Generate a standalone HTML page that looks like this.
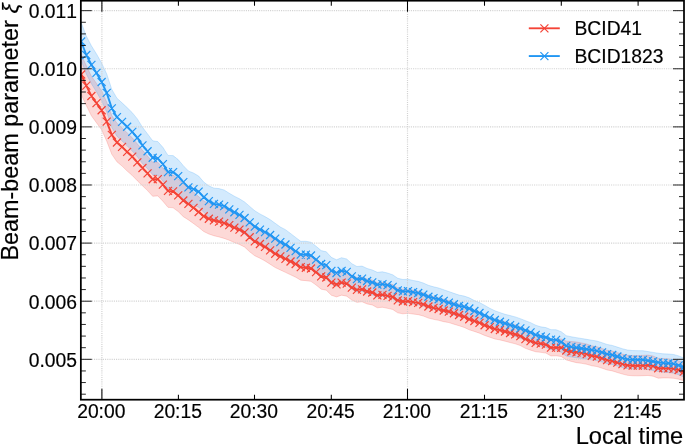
<!DOCTYPE html><html><head><meta charset="utf-8"><style>html,body{margin:0;padding:0;background:#fff;width:685px;height:445px;overflow:hidden}svg{display:block;will-change:transform}text{font-family:"Liberation Sans",sans-serif;fill:#000;font-kerning:none;font-feature-settings:"kern" 0;stroke:#000;stroke-width:0.18px}</style></head><body><svg width="685" height="445" viewBox="0 0 685 445"><rect width="685" height="445" fill="#fff"/><defs><clipPath id="ax"><rect x="80.85" y="0.7" width="603.15" height="399.0"/></clipPath></defs><g clip-path="url(#ax)"><polygon points="81.18,54.50 86.29,65.70 91.40,76.17 96.50,83.43 101.61,90.67 106.72,102.18 111.82,115.56 116.93,123.27 122.04,127.67 127.14,132.88 132.25,137.65 137.35,143.88 142.46,150.29 147.57,156.12 152.67,162.24 157.78,162.27 162.89,168.03 167.99,174.44 173.10,175.06 178.20,179.04 183.31,184.29 188.42,187.98 193.52,192.19 198.63,196.61 203.74,200.92 208.84,203.47 213.95,205.18 219.05,206.41 224.16,207.87 229.27,210.05 234.37,212.62 239.48,214.77 244.59,217.73 249.69,222.78 254.80,227.09 259.91,229.80 265.01,232.86 270.12,236.43 275.22,240.04 280.33,242.78 285.44,245.48 290.54,248.19 295.65,250.89 300.76,254.21 305.86,254.79 310.97,255.60 316.07,259.35 321.18,263.63 326.29,264.79 331.39,269.95 336.50,271.70 341.61,270.06 346.71,271.21 351.82,275.15 356.93,277.45 362.03,276.85 367.14,279.05 372.24,280.05 377.35,282.85 382.46,282.35 387.56,283.45 392.67,284.55 397.78,287.95 402.88,289.18 407.99,289.11 413.09,290.18 418.20,291.08 423.31,292.69 428.41,295.00 433.52,296.51 438.63,297.76 443.73,299.37 448.84,300.52 453.94,302.38 459.05,304.20 464.16,306.07 469.26,308.74 474.37,310.57 479.48,312.58 484.58,315.08 489.69,317.05 494.80,319.10 499.90,320.31 505.01,321.78 510.11,323.41 515.22,324.89 520.33,326.84 525.43,330.02 530.54,332.16 535.65,334.11 540.75,335.05 545.86,336.15 550.96,339.40 556.07,339.30 561.18,338.90 566.28,341.14 571.39,341.52 576.50,342.00 581.60,342.96 586.71,344.04 591.81,345.80 596.92,346.80 602.03,348.55 607.13,350.21 612.24,351.08 617.35,352.63 622.45,354.06 627.56,355.28 632.67,355.62 637.77,355.58 642.88,355.40 647.98,355.12 653.09,356.04 658.20,358.33 663.30,358.46 668.41,358.85 673.52,359.53 678.62,360.82 683.73,362.65 683.73,380.67 678.62,379.20 673.52,378.26 668.41,377.94 663.30,377.90 658.20,378.13 653.09,376.19 647.98,375.48 642.88,375.71 637.77,375.82 632.67,375.78 627.56,375.35 622.45,374.05 617.35,372.53 612.24,370.90 607.13,369.94 602.03,368.20 596.92,366.55 591.81,365.77 586.71,364.24 581.60,363.37 576.50,362.63 571.39,361.41 566.28,359.90 561.18,356.53 556.07,355.79 550.96,355.96 545.86,353.06 540.75,352.33 535.65,351.74 530.54,350.14 525.43,348.36 520.33,345.54 515.22,343.82 510.11,342.57 505.01,341.16 499.90,339.92 494.80,338.95 489.69,337.15 484.58,335.42 479.48,333.16 474.37,331.41 469.26,329.82 464.16,327.39 459.05,325.77 453.94,324.19 448.84,322.58 443.73,321.68 438.63,320.33 433.52,319.33 428.41,318.08 423.31,316.02 418.20,314.67 413.09,314.02 407.99,313.29 402.88,313.82 397.78,312.85 392.67,309.45 387.56,308.35 382.46,307.25 377.35,307.75 372.24,304.95 367.14,303.95 362.03,301.75 356.93,302.35 351.82,300.05 346.71,296.19 341.61,295.14 336.50,296.90 331.39,295.25 326.29,290.21 321.18,289.17 316.07,285.00 310.97,281.36 305.86,280.66 300.76,280.20 295.65,277.16 290.54,274.76 285.44,272.36 280.33,269.96 275.22,267.52 270.12,264.23 265.01,260.96 259.91,258.21 254.80,255.81 249.69,251.80 244.59,247.05 239.48,244.40 234.37,242.56 229.27,240.29 224.16,238.38 219.05,236.94 213.95,235.72 208.84,234.03 203.74,231.51 198.63,227.37 193.52,223.52 188.42,219.88 183.31,216.64 178.20,211.57 173.10,207.77 167.99,207.34 162.89,201.21 157.78,195.89 152.67,196.29 147.57,190.61 142.46,185.73 137.35,180.78 132.25,175.46 127.14,171.00 122.04,166.00 116.93,161.80 111.82,154.30 106.72,141.13 101.61,129.83 96.50,122.80 91.40,115.75 86.29,105.48 81.18,94.50" fill="#F44336" fill-opacity="0.2" stroke="#F44336" stroke-opacity="0.2" stroke-width="1"/><polygon points="81.18,22.50 86.29,35.98 91.40,45.81 96.50,53.91 101.61,62.99 106.72,73.92 111.82,89.39 116.93,98.16 122.04,102.83 127.14,107.62 132.25,112.64 137.35,118.88 142.46,127.24 147.57,133.93 152.67,140.75 157.78,141.57 162.89,147.33 167.99,155.38 173.10,155.60 178.20,159.60 183.31,165.64 188.42,170.99 193.52,173.07 198.63,176.00 203.74,182.09 208.84,185.87 213.95,188.13 219.05,188.60 224.16,190.00 229.27,193.26 234.37,196.21 239.48,198.82 244.59,201.96 249.69,206.39 254.80,210.74 259.91,213.90 265.01,216.61 270.12,219.62 275.22,223.31 280.33,227.00 285.44,229.63 290.54,233.46 295.65,237.42 300.76,241.30 305.86,241.25 310.97,242.22 316.07,246.24 321.18,250.61 326.29,251.76 331.39,257.37 336.50,259.74 341.61,257.71 346.71,258.99 351.82,263.63 356.93,266.51 362.03,266.09 367.14,268.47 372.24,269.96 377.35,272.34 382.46,271.82 387.56,273.00 392.67,274.78 397.78,278.26 402.88,279.46 407.99,279.26 413.09,280.46 418.20,281.37 423.31,283.02 428.41,285.31 433.52,286.79 438.63,287.98 443.73,289.72 448.84,291.53 453.94,293.36 459.05,295.07 464.16,296.07 469.26,297.87 474.37,300.52 479.48,302.56 484.58,305.29 489.69,308.22 494.80,310.71 499.90,312.53 505.01,314.29 510.11,315.55 515.22,316.88 520.33,318.63 525.43,320.70 530.54,322.63 535.65,325.17 540.75,326.84 545.86,327.57 550.96,329.64 556.07,329.72 561.18,331.69 566.28,335.64 571.39,336.78 576.50,337.63 581.60,338.48 586.71,339.33 591.81,340.19 596.92,341.07 602.03,342.70 607.13,344.46 612.24,345.43 617.35,347.08 622.45,348.69 627.56,350.03 632.67,350.55 637.77,350.63 642.88,350.70 647.98,351.57 653.09,352.40 658.20,353.20 663.30,353.80 668.41,353.99 673.52,354.45 678.62,355.88 683.73,357.95 683.73,376.94 678.62,374.72 673.52,373.15 668.41,372.53 663.30,372.20 658.20,371.44 653.09,370.49 647.98,369.63 642.88,368.90 637.77,368.98 632.67,369.03 627.56,368.66 622.45,367.46 617.35,366.00 612.24,364.49 607.13,363.66 602.03,362.04 596.92,360.57 591.81,359.85 586.71,359.15 581.60,358.47 576.50,357.78 571.39,357.10 566.28,356.12 561.18,352.34 556.07,350.13 550.96,349.71 545.86,347.24 540.75,346.10 535.65,344.45 530.54,342.02 525.43,340.19 520.33,338.22 515.22,336.57 510.11,334.57 505.01,332.59 499.90,330.94 494.80,329.34 489.69,327.60 484.58,325.42 479.48,323.38 474.37,321.55 469.26,319.10 464.16,317.50 459.05,316.71 453.94,315.20 448.84,313.58 443.73,311.97 438.63,310.44 433.52,309.45 428.41,308.17 423.31,306.09 418.20,304.64 413.09,303.94 407.99,302.94 402.88,303.34 397.78,302.34 392.67,299.02 387.56,297.40 382.46,296.38 377.35,297.06 372.24,294.84 367.14,293.53 362.03,291.31 356.93,291.89 351.82,289.17 346.71,284.81 341.61,283.89 336.50,286.26 331.39,284.23 326.29,278.64 321.18,277.39 316.07,272.91 310.97,268.81 305.86,267.84 300.76,267.90 295.65,264.98 290.54,262.14 285.44,259.44 280.33,257.18 275.22,253.80 270.12,250.41 265.01,247.71 259.91,245.31 254.80,242.46 249.69,238.39 244.59,234.02 239.48,230.93 234.37,228.37 229.27,225.47 224.16,222.25 219.05,220.75 213.95,219.52 208.84,216.50 203.74,212.36 198.63,207.13 193.52,205.07 188.42,203.64 183.31,198.47 178.20,192.61 173.10,188.80 167.99,188.75 162.89,180.88 157.78,175.30 152.67,174.66 147.57,168.66 142.46,163.50 137.35,156.68 132.25,151.05 127.14,145.86 122.04,140.90 116.93,136.16 111.82,127.39 106.72,111.92 101.61,100.99 96.50,91.91 91.40,83.81 86.29,73.98 81.18,60.50" fill="#2196F3" fill-opacity="0.2" stroke="#2196F3" stroke-opacity="0.2" stroke-width="1"/><path d="M80.85 10.66H684.0M80.85 68.77H684.0M80.85 126.88H684.0M80.85 184.99H684.0M80.85 243.10H684.0M80.85 301.21H684.0M80.85 359.32H684.0M101.90 0.7V399.7M407.50 0.7V399.7" stroke="#d2d2d2" stroke-width="1.2" stroke-dasharray="1.1 1.1" fill="none"/><polyline points="81.18,74.50 86.29,85.59 91.40,95.96 96.50,103.12 101.61,110.25 106.72,121.66 111.82,134.93 116.93,142.53 122.04,146.84 127.14,151.94 132.25,156.56 137.35,162.33 142.46,168.01 147.57,173.37 152.67,179.26 157.78,179.08 162.89,184.62 167.99,190.89 173.10,191.42 178.20,195.30 183.31,200.46 188.42,203.93 193.52,207.85 198.63,211.99 203.74,216.21 208.84,218.75 213.95,220.45 219.05,221.68 224.16,223.12 229.27,225.17 234.37,227.59 239.48,229.58 244.59,232.39 249.69,237.29 254.80,241.45 259.91,244.00 265.01,246.91 270.12,250.33 275.22,253.78 280.33,256.37 285.44,258.92 290.54,261.47 295.65,264.02 300.76,267.20 305.86,267.72 310.97,268.48 316.07,272.17 321.18,276.40 326.29,277.50 331.39,282.60 336.50,284.30 341.61,282.60 346.71,283.70 351.82,287.60 356.93,289.90 362.03,289.30 367.14,291.50 372.24,292.50 377.35,295.30 382.46,294.80 387.56,295.90 392.67,297.00 397.78,300.40 402.88,301.50 407.99,301.20 413.09,302.10 418.20,302.88 423.31,304.35 428.41,306.54 433.52,307.92 438.63,309.04 443.73,310.52 448.84,311.55 453.94,313.28 459.05,314.98 464.16,316.73 469.26,319.28 474.37,320.99 479.48,322.87 484.58,325.25 489.69,327.10 494.80,329.02 499.90,330.12 505.01,331.47 510.11,332.99 515.22,334.35 520.33,336.19 525.43,339.19 530.54,341.15 535.65,342.92 540.75,343.69 545.86,344.60 550.96,347.68 556.07,347.55 561.18,347.72 566.28,350.52 571.39,351.46 576.50,352.32 581.60,353.17 586.71,354.14 591.81,355.79 596.92,356.67 602.03,358.38 607.13,360.08 612.24,360.99 617.35,362.58 622.45,364.05 627.56,365.31 632.67,365.70 637.77,365.70 642.88,365.56 647.98,365.30 653.09,366.11 658.20,368.23 663.30,368.18 668.41,368.39 673.52,368.89 678.62,370.01 683.73,371.66" fill="none" stroke="#F44336" stroke-width="1.9" stroke-linejoin="round"/><path d="M77.18 70.50L85.18 78.50M77.18 78.50L85.18 70.50M82.29 81.59L90.29 89.59M82.29 89.59L90.29 81.59M87.40 91.96L95.40 99.96M87.40 99.96L95.40 91.96M92.50 99.12L100.50 107.12M92.50 107.12L100.50 99.12M97.61 106.25L105.61 114.25M97.61 114.25L105.61 106.25M102.72 117.66L110.72 125.66M102.72 125.66L110.72 117.66M107.82 130.93L115.82 138.93M107.82 138.93L115.82 130.93M112.93 138.53L120.93 146.53M112.93 146.53L120.93 138.53M118.04 142.84L126.04 150.84M118.04 150.84L126.04 142.84M123.14 147.94L131.14 155.94M123.14 155.94L131.14 147.94M128.25 152.56L136.25 160.56M128.25 160.56L136.25 152.56M133.35 158.33L141.35 166.33M133.35 166.33L141.35 158.33M138.46 164.01L146.46 172.01M138.46 172.01L146.46 164.01M143.57 169.37L151.57 177.37M143.57 177.37L151.57 169.37M148.67 175.26L156.67 183.26M148.67 183.26L156.67 175.26M153.78 175.08L161.78 183.08M153.78 183.08L161.78 175.08M158.89 180.62L166.89 188.62M158.89 188.62L166.89 180.62M163.99 186.89L171.99 194.89M163.99 194.89L171.99 186.89M169.10 187.42L177.10 195.42M169.10 195.42L177.10 187.42M174.20 191.30L182.20 199.30M174.20 199.30L182.20 191.30M179.31 196.46L187.31 204.46M179.31 204.46L187.31 196.46M184.42 199.93L192.42 207.93M184.42 207.93L192.42 199.93M189.52 203.85L197.52 211.85M189.52 211.85L197.52 203.85M194.63 207.99L202.63 215.99M194.63 215.99L202.63 207.99M199.74 212.21L207.74 220.21M199.74 220.21L207.74 212.21M204.84 214.75L212.84 222.75M204.84 222.75L212.84 214.75M209.95 216.45L217.95 224.45M209.95 224.45L217.95 216.45M215.05 217.68L223.05 225.68M215.05 225.68L223.05 217.68M220.16 219.12L228.16 227.12M220.16 227.12L228.16 219.12M225.27 221.17L233.27 229.17M225.27 229.17L233.27 221.17M230.37 223.59L238.37 231.59M230.37 231.59L238.37 223.59M235.48 225.58L243.48 233.58M235.48 233.58L243.48 225.58M240.59 228.39L248.59 236.39M240.59 236.39L248.59 228.39M245.69 233.29L253.69 241.29M245.69 241.29L253.69 233.29M250.80 237.45L258.80 245.45M250.80 245.45L258.80 237.45M255.91 240.00L263.91 248.00M255.91 248.00L263.91 240.00M261.01 242.91L269.01 250.91M261.01 250.91L269.01 242.91M266.12 246.33L274.12 254.33M266.12 254.33L274.12 246.33M271.22 249.78L279.22 257.78M271.22 257.78L279.22 249.78M276.33 252.37L284.33 260.37M276.33 260.37L284.33 252.37M281.44 254.92L289.44 262.92M281.44 262.92L289.44 254.92M286.54 257.47L294.54 265.47M286.54 265.47L294.54 257.47M291.65 260.02L299.65 268.02M291.65 268.02L299.65 260.02M296.76 263.20L304.76 271.20M296.76 271.20L304.76 263.20M301.86 263.72L309.86 271.72M301.86 271.72L309.86 263.72M306.97 264.48L314.97 272.48M306.97 272.48L314.97 264.48M312.07 268.17L320.07 276.17M312.07 276.17L320.07 268.17M317.18 272.40L325.18 280.40M317.18 280.40L325.18 272.40M322.29 273.50L330.29 281.50M322.29 281.50L330.29 273.50M327.39 278.60L335.39 286.60M327.39 286.60L335.39 278.60M332.50 280.30L340.50 288.30M332.50 288.30L340.50 280.30M337.61 278.60L345.61 286.60M337.61 286.60L345.61 278.60M342.71 279.70L350.71 287.70M342.71 287.70L350.71 279.70M347.82 283.60L355.82 291.60M347.82 291.60L355.82 283.60M352.93 285.90L360.93 293.90M352.93 293.90L360.93 285.90M358.03 285.30L366.03 293.30M358.03 293.30L366.03 285.30M363.14 287.50L371.14 295.50M363.14 295.50L371.14 287.50M368.24 288.50L376.24 296.50M368.24 296.50L376.24 288.50M373.35 291.30L381.35 299.30M373.35 299.30L381.35 291.30M378.46 290.80L386.46 298.80M378.46 298.80L386.46 290.80M383.56 291.90L391.56 299.90M383.56 299.90L391.56 291.90M388.67 293.00L396.67 301.00M388.67 301.00L396.67 293.00M393.78 296.40L401.78 304.40M393.78 304.40L401.78 296.40M398.88 297.50L406.88 305.50M398.88 305.50L406.88 297.50M403.99 297.20L411.99 305.20M403.99 305.20L411.99 297.20M409.09 298.10L417.09 306.10M409.09 306.10L417.09 298.10M414.20 298.88L422.20 306.88M414.20 306.88L422.20 298.88M419.31 300.35L427.31 308.35M419.31 308.35L427.31 300.35M424.41 302.54L432.41 310.54M424.41 310.54L432.41 302.54M429.52 303.92L437.52 311.92M429.52 311.92L437.52 303.92M434.63 305.04L442.63 313.04M434.63 313.04L442.63 305.04M439.73 306.52L447.73 314.52M439.73 314.52L447.73 306.52M444.84 307.55L452.84 315.55M444.84 315.55L452.84 307.55M449.94 309.28L457.94 317.28M449.94 317.28L457.94 309.28M455.05 310.98L463.05 318.98M455.05 318.98L463.05 310.98M460.16 312.73L468.16 320.73M460.16 320.73L468.16 312.73M465.26 315.28L473.26 323.28M465.26 323.28L473.26 315.28M470.37 316.99L478.37 324.99M470.37 324.99L478.37 316.99M475.48 318.87L483.48 326.87M475.48 326.87L483.48 318.87M480.58 321.25L488.58 329.25M480.58 329.25L488.58 321.25M485.69 323.10L493.69 331.10M485.69 331.10L493.69 323.10M490.80 325.02L498.80 333.02M490.80 333.02L498.80 325.02M495.90 326.12L503.90 334.12M495.90 334.12L503.90 326.12M501.01 327.47L509.01 335.47M501.01 335.47L509.01 327.47M506.11 328.99L514.11 336.99M506.11 336.99L514.11 328.99M511.22 330.35L519.22 338.35M511.22 338.35L519.22 330.35M516.33 332.19L524.33 340.19M516.33 340.19L524.33 332.19M521.43 335.19L529.43 343.19M521.43 343.19L529.43 335.19M526.54 337.15L534.54 345.15M526.54 345.15L534.54 337.15M531.65 338.92L539.65 346.92M531.65 346.92L539.65 338.92M536.75 339.69L544.75 347.69M536.75 347.69L544.75 339.69M541.86 340.60L549.86 348.60M541.86 348.60L549.86 340.60M546.96 343.68L554.96 351.68M546.96 351.68L554.96 343.68M552.07 343.55L560.07 351.55M552.07 351.55L560.07 343.55M557.18 343.72L565.18 351.72M557.18 351.72L565.18 343.72M562.28 346.52L570.28 354.52M562.28 354.52L570.28 346.52M567.39 347.46L575.39 355.46M567.39 355.46L575.39 347.46M572.50 348.32L580.50 356.32M572.50 356.32L580.50 348.32M577.60 349.17L585.60 357.17M577.60 357.17L585.60 349.17M582.71 350.14L590.71 358.14M582.71 358.14L590.71 350.14M587.81 351.79L595.81 359.79M587.81 359.79L595.81 351.79M592.92 352.67L600.92 360.67M592.92 360.67L600.92 352.67M598.03 354.38L606.03 362.38M598.03 362.38L606.03 354.38M603.13 356.08L611.13 364.08M603.13 364.08L611.13 356.08M608.24 356.99L616.24 364.99M608.24 364.99L616.24 356.99M613.35 358.58L621.35 366.58M613.35 366.58L621.35 358.58M618.45 360.05L626.45 368.05M618.45 368.05L626.45 360.05M623.56 361.31L631.56 369.31M623.56 369.31L631.56 361.31M628.67 361.70L636.67 369.70M628.67 369.70L636.67 361.70M633.77 361.70L641.77 369.70M633.77 369.70L641.77 361.70M638.88 361.56L646.88 369.56M638.88 369.56L646.88 361.56M643.98 361.30L651.98 369.30M643.98 369.30L651.98 361.30M649.09 362.11L657.09 370.11M649.09 370.11L657.09 362.11M654.20 364.23L662.20 372.23M654.20 372.23L662.20 364.23M659.30 364.18L667.30 372.18M659.30 372.18L667.30 364.18M664.41 364.39L672.41 372.39M664.41 372.39L672.41 364.39M669.52 364.89L677.52 372.89M669.52 372.89L677.52 364.89M674.62 366.01L682.62 374.01M674.62 374.01L682.62 366.01M679.73 367.66L687.73 375.66M679.73 375.66L687.73 367.66" fill="none" stroke="#F44336" stroke-width="1.2"/><polyline points="81.18,41.50 86.29,54.98 91.40,64.81 96.50,72.91 101.61,81.99 106.72,92.92 111.82,108.39 116.93,117.16 122.04,121.86 127.14,126.74 132.25,131.85 137.35,137.78 142.46,145.37 147.57,151.29 152.67,157.71 157.78,158.44 162.89,164.10 167.99,172.07 173.10,172.20 178.20,176.10 183.31,182.05 188.42,187.32 193.52,189.07 198.63,191.56 203.74,197.22 208.84,201.19 213.95,203.82 219.05,204.68 224.16,206.12 229.27,209.36 234.37,212.29 239.48,214.87 244.59,217.99 249.69,222.39 254.80,226.60 259.91,229.60 265.01,232.16 270.12,235.01 275.22,238.56 280.33,242.09 285.44,244.53 290.54,247.80 295.65,251.20 300.76,254.60 305.86,254.55 310.97,255.51 316.07,259.57 321.18,264.00 326.29,265.20 331.39,270.80 336.50,273.00 341.61,270.80 346.71,271.90 351.82,276.40 356.93,279.20 362.03,278.70 367.14,281.00 372.24,282.40 377.35,284.70 382.46,284.10 387.56,285.20 392.67,286.90 397.78,290.30 402.88,291.40 407.99,291.10 413.09,292.20 418.20,293.00 423.31,294.55 428.41,296.74 433.52,298.12 438.63,299.21 443.73,300.84 448.84,302.55 453.94,304.28 459.05,305.89 464.16,306.79 469.26,308.49 474.37,311.03 479.48,312.97 484.58,315.35 489.69,317.91 494.80,320.02 499.90,321.73 505.01,323.44 510.11,325.06 515.22,326.72 520.33,328.43 525.43,330.44 530.54,332.33 535.65,334.81 540.75,336.47 545.86,337.41 550.96,339.67 556.07,339.93 561.18,342.02 566.28,345.88 571.39,346.94 576.50,347.71 581.60,348.47 586.71,349.24 591.81,350.02 596.92,350.82 602.03,352.37 607.13,354.06 612.24,354.96 617.35,356.54 622.45,358.07 627.56,359.34 632.67,359.79 637.77,359.81 642.88,359.80 647.98,360.60 653.09,361.45 658.20,362.32 663.30,363.00 668.41,363.26 673.52,363.80 678.62,365.30 683.73,367.44" fill="none" stroke="#2196F3" stroke-width="1.9" stroke-linejoin="round"/><path d="M77.18 37.50L85.18 45.50M77.18 45.50L85.18 37.50M82.29 50.98L90.29 58.98M82.29 58.98L90.29 50.98M87.40 60.81L95.40 68.81M87.40 68.81L95.40 60.81M92.50 68.91L100.50 76.91M92.50 76.91L100.50 68.91M97.61 77.99L105.61 85.99M97.61 85.99L105.61 77.99M102.72 88.92L110.72 96.92M102.72 96.92L110.72 88.92M107.82 104.39L115.82 112.39M107.82 112.39L115.82 104.39M112.93 113.16L120.93 121.16M112.93 121.16L120.93 113.16M118.04 117.86L126.04 125.86M118.04 125.86L126.04 117.86M123.14 122.74L131.14 130.74M123.14 130.74L131.14 122.74M128.25 127.85L136.25 135.85M128.25 135.85L136.25 127.85M133.35 133.78L141.35 141.78M133.35 141.78L141.35 133.78M138.46 141.37L146.46 149.37M138.46 149.37L146.46 141.37M143.57 147.29L151.57 155.29M143.57 155.29L151.57 147.29M148.67 153.71L156.67 161.71M148.67 161.71L156.67 153.71M153.78 154.44L161.78 162.44M153.78 162.44L161.78 154.44M158.89 160.10L166.89 168.10M158.89 168.10L166.89 160.10M163.99 168.07L171.99 176.07M163.99 176.07L171.99 168.07M169.10 168.20L177.10 176.20M169.10 176.20L177.10 168.20M174.20 172.10L182.20 180.10M174.20 180.10L182.20 172.10M179.31 178.05L187.31 186.05M179.31 186.05L187.31 178.05M184.42 183.32L192.42 191.32M184.42 191.32L192.42 183.32M189.52 185.07L197.52 193.07M189.52 193.07L197.52 185.07M194.63 187.56L202.63 195.56M194.63 195.56L202.63 187.56M199.74 193.22L207.74 201.22M199.74 201.22L207.74 193.22M204.84 197.19L212.84 205.19M204.84 205.19L212.84 197.19M209.95 199.82L217.95 207.82M209.95 207.82L217.95 199.82M215.05 200.68L223.05 208.68M215.05 208.68L223.05 200.68M220.16 202.12L228.16 210.12M220.16 210.12L228.16 202.12M225.27 205.36L233.27 213.36M225.27 213.36L233.27 205.36M230.37 208.29L238.37 216.29M230.37 216.29L238.37 208.29M235.48 210.87L243.48 218.87M235.48 218.87L243.48 210.87M240.59 213.99L248.59 221.99M240.59 221.99L248.59 213.99M245.69 218.39L253.69 226.39M245.69 226.39L253.69 218.39M250.80 222.60L258.80 230.60M250.80 230.60L258.80 222.60M255.91 225.60L263.91 233.60M255.91 233.60L263.91 225.60M261.01 228.16L269.01 236.16M261.01 236.16L269.01 228.16M266.12 231.01L274.12 239.01M266.12 239.01L274.12 231.01M271.22 234.56L279.22 242.56M271.22 242.56L279.22 234.56M276.33 238.09L284.33 246.09M276.33 246.09L284.33 238.09M281.44 240.53L289.44 248.53M281.44 248.53L289.44 240.53M286.54 243.80L294.54 251.80M286.54 251.80L294.54 243.80M291.65 247.20L299.65 255.20M291.65 255.20L299.65 247.20M296.76 250.60L304.76 258.60M296.76 258.60L304.76 250.60M301.86 250.55L309.86 258.55M301.86 258.55L309.86 250.55M306.97 251.51L314.97 259.51M306.97 259.51L314.97 251.51M312.07 255.57L320.07 263.57M312.07 263.57L320.07 255.57M317.18 260.00L325.18 268.00M317.18 268.00L325.18 260.00M322.29 261.20L330.29 269.20M322.29 269.20L330.29 261.20M327.39 266.80L335.39 274.80M327.39 274.80L335.39 266.80M332.50 269.00L340.50 277.00M332.50 277.00L340.50 269.00M337.61 266.80L345.61 274.80M337.61 274.80L345.61 266.80M342.71 267.90L350.71 275.90M342.71 275.90L350.71 267.90M347.82 272.40L355.82 280.40M347.82 280.40L355.82 272.40M352.93 275.20L360.93 283.20M352.93 283.20L360.93 275.20M358.03 274.70L366.03 282.70M358.03 282.70L366.03 274.70M363.14 277.00L371.14 285.00M363.14 285.00L371.14 277.00M368.24 278.40L376.24 286.40M368.24 286.40L376.24 278.40M373.35 280.70L381.35 288.70M373.35 288.70L381.35 280.70M378.46 280.10L386.46 288.10M378.46 288.10L386.46 280.10M383.56 281.20L391.56 289.20M383.56 289.20L391.56 281.20M388.67 282.90L396.67 290.90M388.67 290.90L396.67 282.90M393.78 286.30L401.78 294.30M393.78 294.30L401.78 286.30M398.88 287.40L406.88 295.40M398.88 295.40L406.88 287.40M403.99 287.10L411.99 295.10M403.99 295.10L411.99 287.10M409.09 288.20L417.09 296.20M409.09 296.20L417.09 288.20M414.20 289.00L422.20 297.00M414.20 297.00L422.20 289.00M419.31 290.55L427.31 298.55M419.31 298.55L427.31 290.55M424.41 292.74L432.41 300.74M424.41 300.74L432.41 292.74M429.52 294.12L437.52 302.12M429.52 302.12L437.52 294.12M434.63 295.21L442.63 303.21M434.63 303.21L442.63 295.21M439.73 296.84L447.73 304.84M439.73 304.84L447.73 296.84M444.84 298.55L452.84 306.55M444.84 306.55L452.84 298.55M449.94 300.28L457.94 308.28M449.94 308.28L457.94 300.28M455.05 301.89L463.05 309.89M455.05 309.89L463.05 301.89M460.16 302.79L468.16 310.79M460.16 310.79L468.16 302.79M465.26 304.49L473.26 312.49M465.26 312.49L473.26 304.49M470.37 307.03L478.37 315.03M470.37 315.03L478.37 307.03M475.48 308.97L483.48 316.97M475.48 316.97L483.48 308.97M480.58 311.35L488.58 319.35M480.58 319.35L488.58 311.35M485.69 313.91L493.69 321.91M485.69 321.91L493.69 313.91M490.80 316.02L498.80 324.02M490.80 324.02L498.80 316.02M495.90 317.73L503.90 325.73M495.90 325.73L503.90 317.73M501.01 319.44L509.01 327.44M501.01 327.44L509.01 319.44M506.11 321.06L514.11 329.06M506.11 329.06L514.11 321.06M511.22 322.72L519.22 330.72M511.22 330.72L519.22 322.72M516.33 324.43L524.33 332.43M516.33 332.43L524.33 324.43M521.43 326.44L529.43 334.44M521.43 334.44L529.43 326.44M526.54 328.33L534.54 336.33M526.54 336.33L534.54 328.33M531.65 330.81L539.65 338.81M531.65 338.81L539.65 330.81M536.75 332.47L544.75 340.47M536.75 340.47L544.75 332.47M541.86 333.41L549.86 341.41M541.86 341.41L549.86 333.41M546.96 335.67L554.96 343.67M546.96 343.67L554.96 335.67M552.07 335.93L560.07 343.93M552.07 343.93L560.07 335.93M557.18 338.02L565.18 346.02M557.18 346.02L565.18 338.02M562.28 341.88L570.28 349.88M562.28 349.88L570.28 341.88M567.39 342.94L575.39 350.94M567.39 350.94L575.39 342.94M572.50 343.71L580.50 351.71M572.50 351.71L580.50 343.71M577.60 344.47L585.60 352.47M577.60 352.47L585.60 344.47M582.71 345.24L590.71 353.24M582.71 353.24L590.71 345.24M587.81 346.02L595.81 354.02M587.81 354.02L595.81 346.02M592.92 346.82L600.92 354.82M592.92 354.82L600.92 346.82M598.03 348.37L606.03 356.37M598.03 356.37L606.03 348.37M603.13 350.06L611.13 358.06M603.13 358.06L611.13 350.06M608.24 350.96L616.24 358.96M608.24 358.96L616.24 350.96M613.35 352.54L621.35 360.54M613.35 360.54L621.35 352.54M618.45 354.07L626.45 362.07M618.45 362.07L626.45 354.07M623.56 355.34L631.56 363.34M623.56 363.34L631.56 355.34M628.67 355.79L636.67 363.79M628.67 363.79L636.67 355.79M633.77 355.81L641.77 363.81M633.77 363.81L641.77 355.81M638.88 355.80L646.88 363.80M638.88 363.80L646.88 355.80M643.98 356.60L651.98 364.60M643.98 364.60L651.98 356.60M649.09 357.45L657.09 365.45M649.09 365.45L657.09 357.45M654.20 358.32L662.20 366.32M654.20 366.32L662.20 358.32M659.30 359.00L667.30 367.00M659.30 367.00L667.30 359.00M664.41 359.26L672.41 367.26M664.41 367.26L672.41 359.26M669.52 359.80L677.52 367.80M669.52 367.80L677.52 359.80M674.62 361.30L682.62 369.30M674.62 369.30L682.62 361.30M679.73 363.44L687.73 371.44M679.73 371.44L687.73 363.44" fill="none" stroke="#2196F3" stroke-width="1.2"/></g><path d="M80.85 10.66h11M684.0 10.66h-11M80.85 22.28h5M684.0 22.28h-5M80.85 33.90h5M684.0 33.90h-5M80.85 45.53h5M684.0 45.53h-5M80.85 57.15h5M684.0 57.15h-5M80.85 68.77h11M684.0 68.77h-11M80.85 80.39h5M684.0 80.39h-5M80.85 92.01h5M684.0 92.01h-5M80.85 103.64h5M684.0 103.64h-5M80.85 115.26h5M684.0 115.26h-5M80.85 126.88h11M684.0 126.88h-11M80.85 138.50h5M684.0 138.50h-5M80.85 150.12h5M684.0 150.12h-5M80.85 161.75h5M684.0 161.75h-5M80.85 173.37h5M684.0 173.37h-5M80.85 184.99h11M684.0 184.99h-11M80.85 196.61h5M684.0 196.61h-5M80.85 208.23h5M684.0 208.23h-5M80.85 219.86h5M684.0 219.86h-5M80.85 231.48h5M684.0 231.48h-5M80.85 243.10h11M684.0 243.10h-11M80.85 254.72h5M684.0 254.72h-5M80.85 266.34h5M684.0 266.34h-5M80.85 277.97h5M684.0 277.97h-5M80.85 289.59h5M684.0 289.59h-5M80.85 301.21h11M684.0 301.21h-11M80.85 312.83h5M684.0 312.83h-5M80.85 324.45h5M684.0 324.45h-5M80.85 336.08h5M684.0 336.08h-5M80.85 347.70h5M684.0 347.70h-5M80.85 359.32h11M684.0 359.32h-11M80.85 370.94h5M684.0 370.94h-5M80.85 382.56h5M684.0 382.56h-5M80.85 394.19h5M684.0 394.19h-5" stroke="#000" stroke-width="0.85" fill="none"/><path d="M101.90 399.7v-11M101.90 0.7v11M178.40 399.7v-5M178.40 0.7v5M254.50 399.7v-5M254.50 0.7v5M331.30 399.7v-5M331.30 0.7v5M407.50 399.7v-11M407.50 0.7v11M484.50 399.7v-5M484.50 0.7v5M561.30 399.7v-5M561.30 0.7v5M638.10 399.7v-5M638.10 0.7v5" stroke="#000" stroke-width="1.05" fill="none"/><rect x="80.85" y="0.7" width="603.15" height="399.0" fill="none" stroke="#000" stroke-width="1.75"/><text x="77" y="17.96" font-size="19.3" text-anchor="end">0.011</text><text x="77" y="76.07" font-size="19.3" text-anchor="end">0.010</text><text x="77" y="134.18" font-size="19.3" text-anchor="end">0.009</text><text x="77" y="192.29" font-size="19.3" text-anchor="end">0.008</text><text x="77" y="250.40" font-size="19.3" text-anchor="end">0.007</text><text x="77" y="308.51" font-size="19.3" text-anchor="end">0.006</text><text x="77" y="366.62" font-size="19.3" text-anchor="end">0.005</text><text x="101.30" y="417.5" font-size="19.3" text-anchor="middle">20:00</text><text x="177.80" y="417.5" font-size="19.3" text-anchor="middle">20:15</text><text x="253.90" y="417.5" font-size="19.3" text-anchor="middle">20:30</text><text x="330.70" y="417.5" font-size="19.3" text-anchor="middle">20:45</text><text x="406.90" y="417.5" font-size="19.3" text-anchor="middle">21:00</text><text x="483.90" y="417.5" font-size="19.3" text-anchor="middle">21:15</text><text x="560.70" y="417.5" font-size="19.3" text-anchor="middle">21:30</text><text x="637.50" y="417.5" font-size="19.3" text-anchor="middle">21:45</text><text x="683.2" y="443.8" font-size="23.6" text-anchor="end">Local time</text><text transform="translate(17.5,260.6) rotate(-90)" x="0" y="0" font-size="23.4">Beam-beam parameter <tspan font-style="italic" font-size="22.5">ξ</tspan></text><path d="M528.8 28.3H559.8" stroke="#F44336" stroke-width="1.85"/><path d="M540.4 24.3L548.4 32.3M540.4 32.3L548.4 24.3" stroke="#F44336" stroke-width="1.2"/><text x="574.5" y="34.90" font-size="19.3">BCID41</text><path d="M528.8 56.05H559.8" stroke="#2196F3" stroke-width="1.85"/><path d="M540.4 52.05L548.4 60.05M540.4 60.05L548.4 52.05" stroke="#2196F3" stroke-width="1.2"/><text x="574.5" y="62.75" font-size="19.3">BCID1823</text></svg></body></html>
